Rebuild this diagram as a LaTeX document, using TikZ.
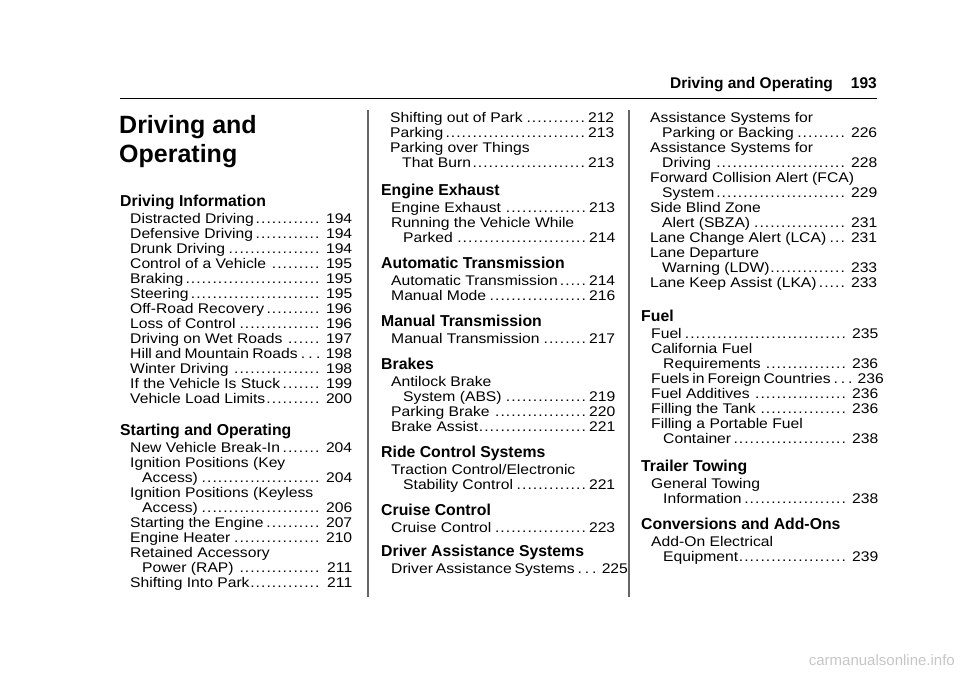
\documentclass[tikz,border=0pt]{standalone}
\usepackage{fontspec}
\setmainfont{Liberation Sans}
\newfontfamily\bodyf[FakeStretch=1.12]{Liberation Sans}
\newdimen\colw
\newcommand\En[2]{\hbox to \colw{\hspace{10pt}#1\leaders\hbox to 5.4pt{\hss.\hss}\hfill\,#2}}
\newcommand\Ec[2]{\hbox to \colw{\hspace{22pt}#1\leaders\hbox to 5.4pt{\hss.\hss}\hfill\,#2}}
\newcommand\Ef[1]{\hbox to \colw{\hspace{10pt}#1\hfill}}
\newcommand\Hd[1]{\hbox{\fontsize{15.8}{15}\selectfont\rmfamily\bfseries #1}\vskip 2pt}
\tikzset{sec/.style={anchor=base west,inner sep=0pt,font=\bodyf\fontsize{14}{15}\selectfont}}
\newcommand\blk[1]{\vtop{\baselineskip=15pt\lineskiplimit=-10pt #1}}
\begin{document}
\begin{tikzpicture}[x=1pt,y=-1pt]
\useasboundingbox (0,0) rectangle (960,678);
% header
\node[anchor=base east,inner sep=0pt,font=\fontsize{15.5}{18}\selectfont\bfseries] (hdr) at (877,88) {Driving and Operating\hspace{18pt}193};
\draw[line width=0.9pt] (120,98) -- (877,98);
\draw[line width=1.2pt,gray!80!black] (368,110) -- (368,597);
\draw[line width=1.2pt,gray!80!black] (629,110) -- (629,597);
% title
\node[anchor=base west,inner sep=0pt,font=\fontsize{25}{29}\selectfont\bfseries] (title1) at (119,133) {Driving and};
\node[anchor=base west,inner sep=0pt,font=\fontsize{25}{29}\selectfont\bfseries] (title2) at (119,162) {Operating};
% column 1
\global\colw=232pt
\node[sec] (c1a) at (120,206) {\blk{\Hd{Driving Information}
\En{Distracted Driving}{194}
\En{Defensive Driving}{194}
\En{Drunk Driving}{194}
\En{Control of a Vehicle}{195}
\En{Braking}{195}
\En{Steering}{195}
\En{Off-Road Recovery}{196}
\En{Loss of Control}{196}
\En{Driving on Wet Roads}{197}
\En{Hill and Mountain Roads\ .\ .\ .\ }{198}
\En{Winter Driving}{198}
\En{If the Vehicle Is Stuck}{199}
\En{Vehicle Load Limits}{200}}};
\node[sec] (c1b) at (120,435) {\blk{\Hd{Starting and Operating}
\En{New Vehicle Break-In}{204}
\Ef{Ignition Positions (Key}
\Ec{Access)}{204}
\Ef{Ignition Positions (Keyless}
\Ec{Access)}{206}
\En{Starting the Engine}{207}
\En{Engine Heater}{210}
\Ef{Retained Accessory}
\Ec{Power (RAP)}{211}
\En{Shifting Into Park}{211}}};
% column 2
\global\colw=234pt
\node[sec] (c2a) at (380,122.5) {\blk{\En{Shifting out of Park}{212}
\En{Parking}{213}
\Ef{Parking over Things}
\Ec{That Burn}{213}}};
\node[sec] (c2b) at (381,195) {\blk{\Hd{Engine Exhaust}
\En{Engine Exhaust}{213}
\Ef{Running the Vehicle While}
\Ec{Parked}{214}}};
\node[sec] (c2c) at (381,268) {\blk{\Hd{Automatic Transmission}
\En{Automatic Transmission}{214}
\En{Manual Mode}{216}}};
\node[sec] (c2d) at (381,326) {\blk{\Hd{Manual Transmission}
\En{Manual Transmission}{217}}};
\node[sec] (c2e) at (381,369) {\blk{\Hd{Brakes}
\Ef{Antilock Brake}
\Ec{System (ABS)}{219}
\En{Parking Brake}{220}
\En{Brake Assist}{221}}};
\node[sec] (c2f) at (381,457) {\blk{\Hd{Ride Control Systems}
\Ef{Traction Control/Electronic}
\Ec{Stability Control}{221}}};
\node[sec] (c2g) at (381,515) {\blk{\Hd{Cruise Control}
\En{Cruise Control}{223}}};
\node[sec] (c2h) at (381,556) {\blk{\Hd{Driver Assistance Systems}
\En{Driver Assistance Systems\ .\ .\ .\ }{225}}};
% column 3
\global\colw=237pt
\node[sec] (c3a) at (640,122.5) {\blk{\Ef{Assistance Systems for}
\Ec{Parking or Backing}{226}
\Ef{Assistance Systems for}
\Ec{Driving}{228}
\Ef{Forward Collision Alert (FCA)}
\Ec{System}{229}
\Ef{Side Blind Zone}
\Ec{Alert (SBZA)}{231}
\En{Lane Change Alert (LCA)}{231}
\Ef{Lane Departure}
\Ec{Warning (LDW)}{233}
\En{Lane Keep Assist (LKA)}{233}}};
\node[sec] (c3b) at (641,321) {\blk{\Hd{Fuel}
\En{Fuel}{235}
\Ef{California Fuel}
\Ec{Requirements}{236}
\En{Fuels in Foreign Countries\ .\ .\ .\ }{236}
\En{Fuel Additives}{236}
\En{Filling the Tank}{236}
\Ef{Filling a Portable Fuel}
\Ec{Container}{238}}};
\node[sec] (c3c) at (641,471) {\blk{\Hd{Trailer Towing}
\Ef{General Towing}
\Ec{Information}{238}}};
\node[sec] (c3d) at (641,529) {\blk{\Hd{Conversions and Add-Ons}
\Ef{Add-On Electrical}
\Ec{Equipment}{239}}};
% watermark
\node[anchor=base east,inner sep=0pt,text=gray!45,font=\fontsize{15}{18}\selectfont] (wm) at (955,665) {carmanualsonline.info};
\end{tikzpicture}
\end{document}
